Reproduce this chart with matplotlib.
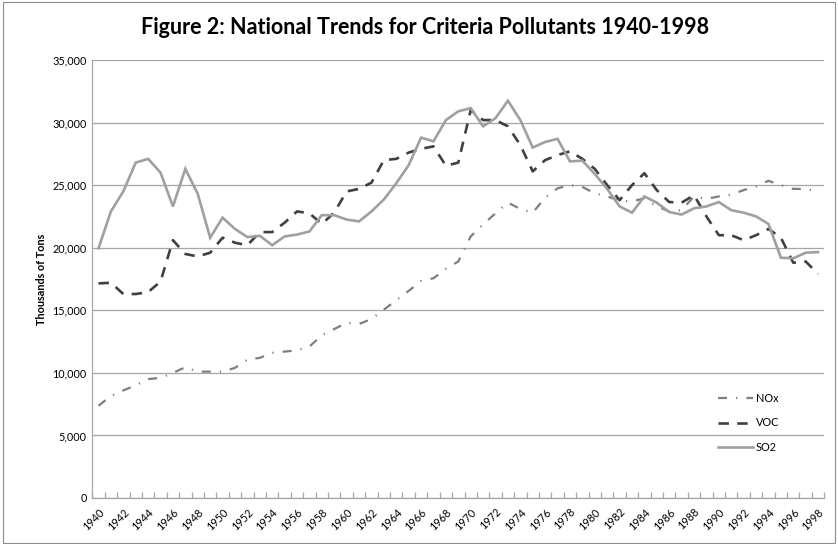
import matplotlib
matplotlib.use("Agg")
import matplotlib.pyplot as plt
from matplotlib.patches import Rectangle
from matplotlib.ticker import FuncFormatter, MultipleLocator, FixedLocator

plt.rcParams['font.family'] = ['Lato', 'DejaVu Sans']
plt.rcParams['lines.scale_dashes'] = False

years = list(range(1940, 1999))

nox = [7370, 8150, 8600, 9000, 9500, 9600, 10000, 10450, 10100, 10100,
       10100, 10400, 11050, 11200, 11600, 11700, 11800, 12100, 13000, 13500,
       14000, 13900, 14300, 15050, 15800, 16550, 17340, 17560, 18320, 18900,
       20900, 21860, 22750, 23600, 23100, 22800, 24000, 24750, 25000, 24850,
       24350, 24100, 23750, 23700, 23950, 23300, 22900, 23000, 24100, 23900,
       24100, 24250, 24600, 24900, 25350, 25000, 24700, 24700, 24500]

voc = [17150, 17200, 16300, 16300, 16450, 17300, 20600, 19500, 19300, 19600,
       20800, 20400, 20200, 21250, 21250, 22000, 22900, 22750, 21900, 22800,
       24500, 24700, 25200, 27000, 27100, 27600, 27900, 28100, 26550, 26800,
       31000, 30200, 30200, 29700, 28200, 26100, 27000, 27400, 27700, 27100,
       26300, 25000, 23800, 25000, 25950, 24600, 23650, 23600, 24200, 22500,
       21000, 21000, 20600, 21000, 21500, 20800, 18800, 18900, 17900]

so2 = [19950, 22900, 24500, 26800, 27100, 26000, 23300, 26300, 24300, 20800,
       22400, 21500, 20850, 20950, 20200, 20900, 21050, 21300, 22600, 22600,
       22250, 22100, 22900, 23850, 25150, 26600, 28800, 28500, 30200, 30900,
       31150, 29700, 30350, 31750, 30200, 28000, 28450, 28700, 26900, 26950,
       25900, 24700, 23300, 22800, 24100, 23600, 22850, 22650, 23150, 23300,
       23650, 23000, 22800, 22500, 21900, 19200, 19150, 19600, 19650]

series_names = ['NOx', 'VOC', 'SO2']
title = 'Figure 2: National Trends for Criteria Pollutants 1940-1998'
y_label = 'Thousands of Tons'

W, H = 838, 544
fig = plt.figure(figsize=(W / 100, H / 100), dpi=100)
fig.patch.set_facecolor('white')

# outer chart border
fig.add_artist(Rectangle((3 / W, 1 / H), (W - 6) / W, (H - 3) / H,
                         transform=fig.transFigure, fill=False,
                         edgecolor='#8c8c8c', linewidth=0.8))

ax = fig.add_axes([92.3 / W, 1 - 498 / H, (824.3 - 92.3) / W, (498 - 60) / H])
x = list(range(len(years)))

ax.plot(x, nox, color='#7f7f7f', linewidth=1.6, dashes=(6.5, 6.5, 0.9, 6.5),
        dash_capstyle='butt', label=series_names[0], zorder=3)
ax.plot(x, voc, color='#404040', linewidth=1.9, dashes=(7.5, 6),
        dash_capstyle='butt', label=series_names[1], zorder=4)
ax.plot(x, so2, color='#a0a0a0', linewidth=1.9, label=series_names[2],
        solid_joinstyle='miter', zorder=5)

ax.set_xlim(-0.5, len(years) - 0.5)
ax.set_ylim(0, 35000)
ax.yaxis.set_major_locator(MultipleLocator(5000))
ax.yaxis.set_major_formatter(FuncFormatter(lambda v, p: f'{int(v):,}'))
ax.grid(axis='y', color='#a6a6a6', linewidth=0.9)
ax.set_axisbelow(True)

ax.set_xticks(x[::2])
ax.set_xticklabels([str(y) for y in years[::2]], rotation=45, ha='right',
                   rotation_mode='anchor', fontsize=7.8)
ax.xaxis.set_minor_locator(FixedLocator([i - 0.5 for i in range(len(years) + 1)]))
ax.tick_params(axis='x', which='major', length=0, pad=6)
ax.tick_params(axis='x', which='minor', length=4, direction='in',
               color='#a6a6a6', width=0.9)
ax.tick_params(axis='y', length=0, labelsize=7.8, pad=4, colors='black')

for s in ['top', 'right']:
    ax.spines[s].set_visible(False)
for s in ['left', 'bottom']:
    ax.spines[s].set_color('#a6a6a6')
    ax.spines[s].set_linewidth(0.9)

ax.set_ylabel(y_label, fontsize=7.8, fontweight='bold', labelpad=4)

fig.text(425 / W, 1 - 28 / H, title, ha='center', va='center',
         fontsize=15.5, fontweight='bold')

leg = ax.legend(loc='center left', bbox_to_anchor=(718 / W, 1 - 423 / H),
                bbox_transform=fig.transFigure, frameon=False, fontsize=7.8,
                handlelength=3.2, handletextpad=0.3, labelspacing=1.25,
                borderpad=0, borderaxespad=0)

fig.savefig('out.png', dpi=100)
